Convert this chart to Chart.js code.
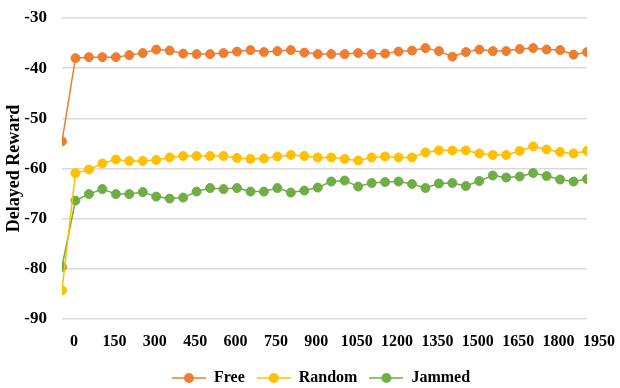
<!DOCTYPE html>
<html>
<head>
<meta charset="utf-8">
<script src="https://cdn.jsdelivr.net/npm/chart.js@4/dist/chart.umd.min.js"></script>
<style>
  html, body { margin: 0; padding: 0; background: #fff; }
  #wrap { width: 620px; height: 388px; position: relative; }
</style>
</head>
<body>
<div id="wrap"><canvas id="c" width="620" height="388"></canvas></div>
<script>
const episodes = [0, 50, 100, 150, 200, 250, 300, 350, 400, 450, 500, 550, 600, 650, 700, 750, 800, 850, 900, 950,
  1000, 1050, 1100, 1150, 1200, 1250, 1300, 1350, 1400, 1450, 1500, 1550, 1600, 1650, 1700, 1750, 1800, 1850, 1900, 1950];
const xTicks = [0, 150, 300, 450, 600, 750, 900, 1050, 1200, 1350, 1500, 1650, 1800, 1950];
const yTicks = [-90, -80, -70, -60, -50, -40, -30];

const freeValues = [-54.6, -38.0, -37.8, -37.8, -37.8, -37.4, -37.0, -36.3, -36.5, -37.1,
  -37.2, -37.2, -37.0, -36.7, -36.4, -36.8, -36.6, -36.4, -36.9, -37.2,
  -37.2, -37.2, -37.0, -37.2, -37.1, -36.7, -36.5, -36.0, -36.6, -37.7,
  -36.8, -36.3, -36.6, -36.6, -36.2, -36.0, -36.3, -36.4, -37.3, -36.8];
const randomValues = [-84.3, -60.9, -60.2, -59.0, -58.2, -58.5, -58.5, -58.3, -57.8, -57.5,
  -57.5, -57.5, -57.5, -57.9, -58.1, -58.0, -57.6, -57.3, -57.5, -57.8,
  -57.8, -58.1, -58.4, -57.8, -57.6, -57.8, -57.8, -56.8, -56.4, -56.4,
  -56.4, -57.0, -57.3, -57.3, -56.5, -55.6, -56.2, -56.7, -57.0, -56.5];
const jammedValues = [-79.6, -66.4, -65.1, -64.1, -65.1, -65.1, -64.7, -65.6, -66.0, -65.8,
  -64.6, -63.9, -64.1, -63.9, -64.6, -64.6, -63.9, -64.8, -64.4, -63.8,
  -62.6, -62.4, -63.6, -62.9, -62.7, -62.6, -63.1, -63.9, -63.0, -62.9,
  -63.5, -62.5, -61.4, -61.8, -61.6, -60.9, -61.5, -62.2, -62.6, -62.1];

const seriesNames = ['Free', 'Random', 'Jammed'];
const seriesColors = ['#ED7D31', '#FFC000', '#70AD47'];
const seriesValues = [freeValues, randomValues, jammedValues];

const FONT = "'Liberation Serif', 'Times New Roman', serif";
const LEGEND_PAD = 12;

function legendIcon(color) {
  const cv = document.createElement('canvas');
  cv.width = 34; cv.height = 12;
  const g = cv.getContext('2d');
  g.strokeStyle = color; g.lineWidth = 1.5;
  g.beginPath(); g.moveTo(0, 6); g.lineTo(34, 6); g.stroke();
  g.fillStyle = color;
  g.beginPath(); g.arc(17, 6, 5, 0, Math.PI * 2); g.fill();
  return cv;
}
const icons = seriesColors.map(legendIcon);

const datasets = seriesNames.map((name, i) => ({
  label: name,
  data: episodes.map((x, j) => ({ x: x, y: seriesValues[i][j] })),
  borderColor: seriesColors[i],
  backgroundColor: seriesColors[i],
  borderWidth: 1.5,
  pointRadius: 4.5,
  pointBorderWidth: 1,
  pointBorderColor: seriesColors[i],
  pointBackgroundColor: seriesColors[i],
  tension: 0
}));

// Fix the legend's reserved height, then centre it under the plot at the reference height
const legendPlacer = {
  id: 'legendPlacer',
  beforeLayout(chart) {
    const lg = chart.legend;
    if (lg && !lg._fixedFit) {
      const orig = lg.fit.bind(lg);
      lg.fit = function () { orig(); this.height = 30; };
      lg._fixedFit = true;
    }
  },
  afterLayout(chart) {
    const lg = chart.legend;
    if (!lg) return;
    const dx = (642 - lg.left - lg.right) / 2;
    lg.left += dx; lg.right += dx;
    const newTop = 378 - 8 - LEGEND_PAD;
    const h = lg.bottom - lg.top;
    lg.top = newTop; lg.bottom = newTop + h;
  }
};

new Chart(document.getElementById('c'), {
  type: 'line',
  data: { datasets },
  plugins: [legendPlacer],
  options: {
    responsive: false,
    animation: false,
    devicePixelRatio: 1,
    layout: { padding: { top: 18, right: 33, left: 0, bottom: 0 } },
    plugins: {
      tooltip: { enabled: false },
      legend: {
        position: 'bottom',
        labels: {
          usePointStyle: true,
          pointStyleWidth: 34,
          padding: LEGEND_PAD,
          color: '#000',
          font: { family: FONT, size: 16, weight: 'bold' },
          generateLabels(chart) {
            const items = Chart.defaults.plugins.legend.labels.generateLabels(chart);
            items.forEach((it, i) => { it.pointStyle = icons[i]; });
            return items;
          }
        }
      }
    },
    scales: {
      x: {
        type: 'linear',
        min: 0, max: 1950,
        afterBuildTicks(scale) { scale.ticks = xTicks.map(v => ({ value: v })); },
        grid: { display: false, drawTicks: false },
        border: { display: false },
        ticks: {
          color: '#000',
          padding: 13,
          labelOffset: 12,
          maxRotation: 0,
          autoSkip: false,
          font: { family: FONT, size: 16, weight: 'bold' },
          callback: (v) => String(v)
        },
        afterFit(scale) { scale.height = 39; }
      },
      y: {
        min: -90, max: -30,
        afterBuildTicks(scale) { scale.ticks = yTicks.map(v => ({ value: v })); },
        grid: { color: '#D9D9D9', lineWidth: 1.5, drawTicks: false },
        border: { display: false },
        ticks: {
          color: '#000',
          padding: 15,
          font: { family: FONT, size: 17, weight: 'bold' },
          callback: (v) => String(v)
        },
        title: {
          display: true,
          text: 'Delayed Reward',
          color: '#000',
          padding: { top: 4, bottom: 0 },
          font: { family: FONT, size: 18, weight: 'bold' }
        },
        afterFit(scale) {
          scale.width = 62;
          scale.paddingTop = 10;
          scale.paddingBottom = 10;
        }
      }
    }
  }
});
</script>
</body>
</html>
